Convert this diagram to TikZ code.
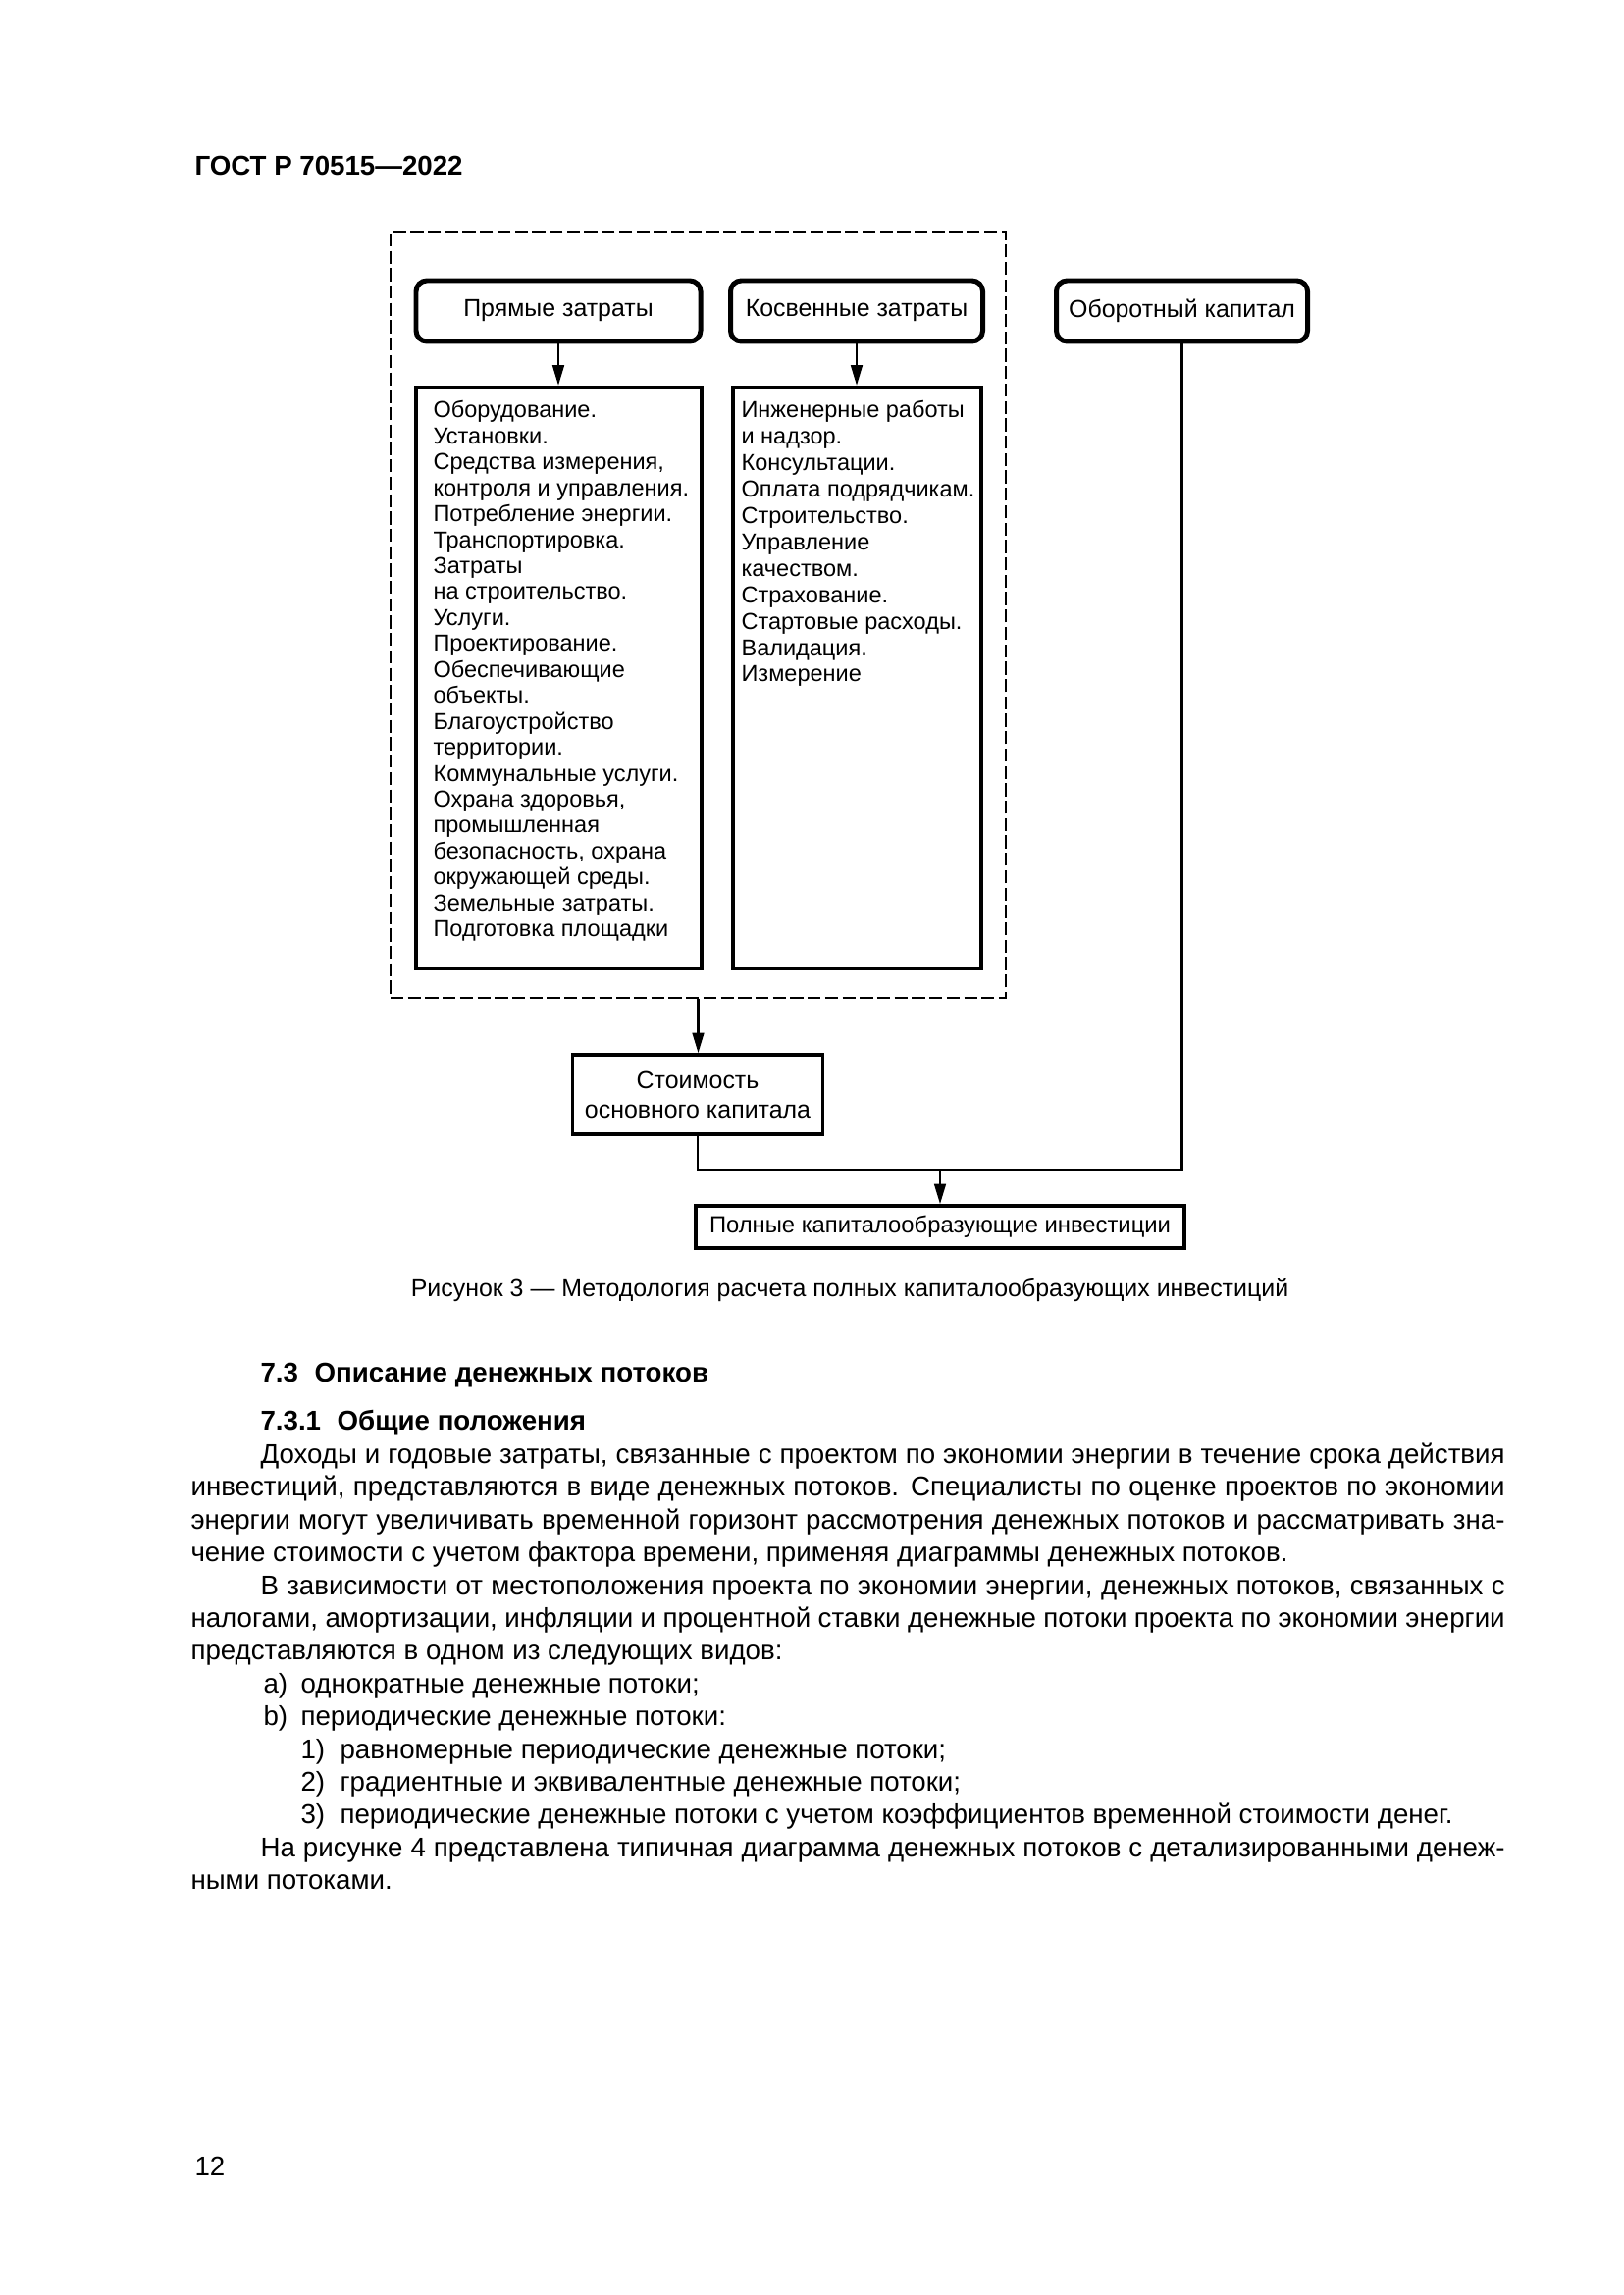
\documentclass[tikz,border=0pt]{standalone}
\usepackage{fontspec}
\setmainfont{Liberation Sans}
\usetikzlibrary{arrows.meta}
\def\PX{0.127mm}
\newcommand\JLine[2]{\makebox[#1][s]{#2}}
\newcommand\LBox[2]{\makebox[#1][l]{#2}}
\begin{document}
\begin{tikzpicture}[x=0.127mm,y=-0.127mm,
  hdrbox/.style={draw, line width=1.8pt, rounded corners=1.4mm, minimum height=62*\PX, inner sep=0pt, font=\fontsize{9}{11}\selectfont},
  lstbox/.style={draw, line width=1.1pt, inner sep=0pt},
  plainbox/.style={draw, line width=1.2pt, inner sep=0pt, align=center, font=\fontsize{9}{10.8}\selectfont},
  grpbox/.style={draw, line width=0.7pt, dash pattern=on 4.8pt off 1.6pt, inner sep=0pt},
  lsttxt/.style={anchor=base west, inner sep=0pt},
  bodytxt/.style={anchor=base west, inner sep=0pt, font=\fontsize{10}{12}\selectfont},
  headtxt/.style={anchor=base west, inner sep=0pt, font=\fontsize{10}{12}\selectfont\bfseries},
  conn/.style={line width=1pt},
  arr/.style={line width=1pt, -{Triangle[length=7.5pt,width=4.2pt]}}
]
\fill[white] (0,0) rectangle (1654,2339);
\useasboundingbox (0,0) rectangle (1654,2339);

% header
\node[headtxt] (hdr) at (198,178.5) {ГОСТ Р 70515—2022};

% dashed group
\node[grpbox, minimum width=627*\PX, minimum height=781*\PX] (grp) at (711.5,626.5) {};

% top boxes
\node[hdrbox, minimum width=290*\PX] (pr) at (569,317) {Прямые затраты};
\node[hdrbox, minimum width=257*\PX] (kos) at (873,317) {Косвенные затраты};
\node[hdrbox, minimum width=256*\PX] (obk) at (1204.5,317) {Оборотный капитал};

% list boxes
\node[lstbox, minimum width=291*\PX, minimum height=593*\PX] (lL) at (569.5,691) {};
\node[lstbox, minimum width=253*\PX, minimum height=593*\PX] (lR) at (873.5,691) {};

\node[lsttxt, font=\fontsize{8.5}{9.55}\selectfont] (tL) at (441,426) {\parbox[t]{36mm}{\raggedright
Оборудование.\\
Установки.\\
Средства измерения,\\
контроля и управления.\\
Потребление энергии.\\
Транспортировка.\\
Затраты\\
на строительство.\\
Услуги.\\
Проектирование.\\
Обеспечивающие\\
объекты.\\
Благоустройство\\
территории.\\
Коммунальные услуги.\\
Охрана здоровья,\\
промышленная\\
безопасность, охрана\\
окружающей среды.\\
Земельные затраты.\\
Подготовка площадки}};

\node[lsttxt, font=\fontsize{8.5}{9.72}\selectfont] (tR) at (755,426) {\parbox[t]{32mm}{\raggedright
Инженерные работы\\
и надзор.\\
Консультации.\\
Оплата подрядчикам.\\
Строительство.\\
Управление\\
качеством.\\
Страхование.\\
Стартовые расходы.\\
Валидация.\\
Измерение}};

% lower boxes
\node[plainbox, minimum width=255*\PX, minimum height=81*\PX] (st) at (711,1115.5) {Стоимость\\основного капитала};
\node[plainbox, minimum width=498*\PX, minimum height=43*\PX, font=\fontsize{8.6}{10}\selectfont] (pk) at (958,1250.5) {Полные капиталообразующие инвестиции};

\coordinate (j) at (958,1192);

% connectors
\draw[arr] (pr.south) -- (pr.south |- lL.north);
\draw[arr] (kos.south) -- (kos.south |- lR.north);
\draw[arr] (grp.south) -- (grp.south |- st.north);
\draw[conn] (obk.south) |- (st.south |- j) -- (st.south);
\draw[arr] (j) -- (pk.north);

% caption
\node[anchor=base, inner sep=0pt, font=\fontsize{9}{11}\selectfont] (cap) at (866,1321.5) {Рисунок 3 — Методология расчета полных капиталообразующих инвестиций};

% headings
\node[headtxt] (h1) at (265,1408.5) {7.3\hspace{0.6em}Описание денежных потоков};
\node[headtxt] (h2) at (265,1457) {7.3.1\hspace{0.6em}Общие положения};

% body
\node[bodytxt] (b1) at (265,1491.5) {\JLine{161.04mm}{Доходы и годовые затраты, связанные с проектом по экономии энергии в течение срока действия}};
\node[bodytxt] (b2) at (194,1524.9) {\JLine{170.05mm}{инвестиций, представляются в виде денежных потоков. Специалисты по оценке проектов по экономии}};
\node[bodytxt] (b3) at (194,1558.3) {\JLine{170.05mm}{энергии могут увеличивать временной горизонт рассмотрения денежных потоков и рассматривать зна-}};
\node[bodytxt] (b4) at (194,1591.7) {чение стоимости с учетом фактора времени, применяя диаграммы денежных потоков.};
\node[bodytxt] (b5) at (265,1625.1) {\JLine{161.04mm}{В зависимости от местоположения проекта по экономии энергии, денежных потоков, связанных с}};
\node[bodytxt] (b6) at (194,1658.5) {\JLine{170.05mm}{налогами, амортизации, инфляции и процентной ставки денежные потоки проекта по экономии энергии}};
\node[bodytxt] (b7) at (194,1691.9) {представляются в одном из следующих видов:};
\node[bodytxt] (b8) at (268,1725.3) {\LBox{4.83mm}{a)}однократные денежные потоки;};
\node[bodytxt] (b9) at (268,1758.7) {\LBox{4.83mm}{b)}периодические денежные потоки:};
\node[bodytxt] (b10) at (306,1792.1) {\LBox{5.08mm}{1)}равномерные периодические денежные потоки;};
\node[bodytxt] (b11) at (306,1825.5) {\LBox{5.08mm}{2)}градиентные и эквивалентные денежные потоки;};
\node[bodytxt] (b12) at (306,1858.9) {\LBox{5.08mm}{3)}периодические денежные потоки с учетом коэффициентов временной стоимости денег.};
\node[bodytxt] (b13) at (265,1892.3) {\JLine{161.04mm}{На рисунке 4 представлена типичная диаграмма денежных потоков с детализированными денеж-}};
\node[bodytxt] (b14) at (194,1925.7) {ными потоками.};

% page number
\node[bodytxt] (pn) at (198,2217) {12};
\end{tikzpicture}
\end{document}
